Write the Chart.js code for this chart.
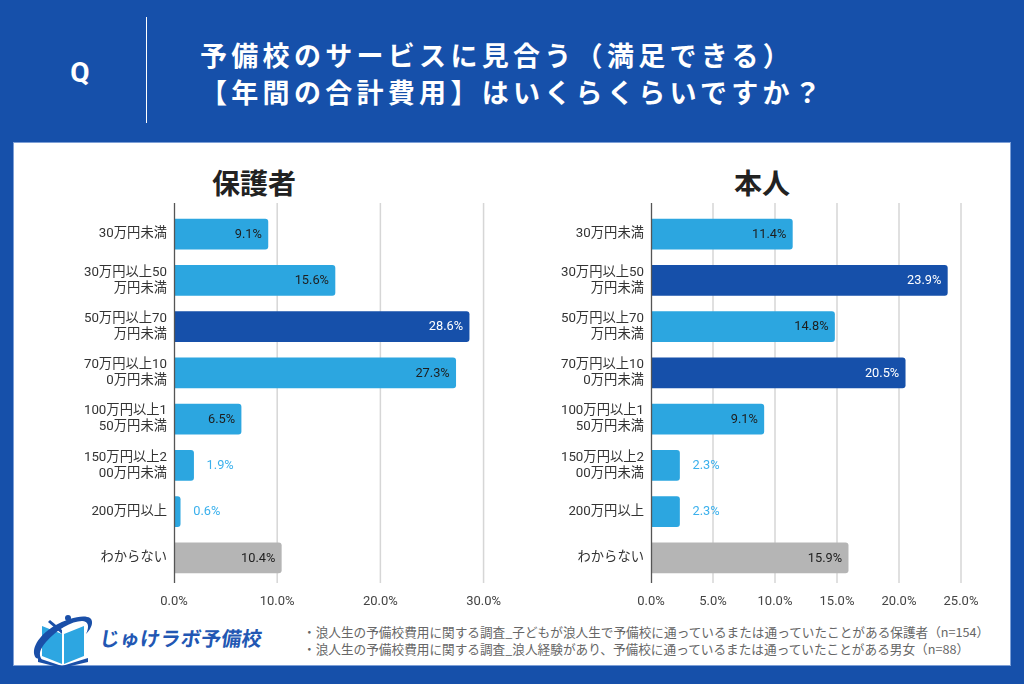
<!DOCTYPE html>
<html><head><meta charset="utf-8">
<script src="https://cdn.jsdelivr.net/npm/chart.js@4.4.0/dist/chart.umd.min.js"></script>
<style>
html,body{margin:0;padding:0;}
body{width:1024px;height:684px;background:#1650aa;position:relative;overflow:hidden;font-family:'Noto Sans CJK JP','Noto Sans',sans-serif;}
#q{position:absolute;left:60px;top:57px;width:40px;text-align:center;color:#fff;font:bold 28px Roboto,'Noto Sans CJK JP';line-height:32px;}
#vl{position:absolute;left:146px;top:17px;width:1px;height:106px;background:#fff;}
.tl{position:absolute;left:200px;color:#fff;font-weight:bold;font-size:27px;letter-spacing:4.3px;white-space:nowrap;line-height:30px;}
#panel{position:absolute;left:13px;top:142px;width:998px;height:524px;background:#fff;border:1px solid #7d9fd6;box-sizing:border-box;}
.ct{position:absolute;top:164px;width:200px;text-align:center;color:#222;font-weight:bold;font-size:28px;line-height:36px;}
#c1{position:absolute;left:14px;top:150px;}
#c2{position:absolute;left:491px;top:150px;}
#logoTxt{position:absolute;left:98px;top:625px;color:#2257b3;font-weight:bold;font-size:20px;line-height:26px;letter-spacing:0.3px;transform:skewX(-8deg);transform-origin:left bottom;white-space:nowrap;}
.fn{position:absolute;left:303px;color:#666;font-size:12.65px;line-height:17px;white-space:nowrap;}
</style></head>
<body>
<div id="q">Q</div>
<div id="vl"></div>
<div class="tl" style="top:40px">予備校のサービスに見合う（満足できる）</div>
<div class="tl" style="top:77px">【年間の合計費用】はいくらくらいですか？</div>
<div id="panel"></div>
<div class="ct" style="left:154px">保護者</div>
<div class="ct" style="left:662px">本人</div>
<canvas id="c1" width="500" height="462" style="width:500px;height:462px"></canvas>
<canvas id="c2" width="520" height="462" style="width:520px;height:462px"></canvas>
<svg style="position:absolute;left:28px;top:612px" width="72" height="56" viewBox="0 0 72 56">
  <path d="M14 14 L14 44 L34 52 L34 22 Z" fill="#2da6e1"/>
  <path d="M36 22 L36 52 L56 44 L56 14 Z" fill="#2da6e1"/>
  <path d="M20 10 L34 22 L34 18 L22 8 Z" fill="#1a4fa8"/>
  <path d="M8 46 C2 38 10 24 26 14 C40 6 56 2 62 6 C66 9 64 16 58 22 C62 14 60 9 54 9 C44 9 28 18 18 30 C12 37 10 42 14 48 Z" fill="#1a4fa8"/>
  <path d="M10 46 L34 54 L60 46 L60 50 L34 56 L10 50 Z" fill="#1a4fa8"/>
  <circle cx="40" cy="6" r="3" fill="#1a4fa8"/>
</svg>
<div id="logoTxt">じゅけラボ予備校</div>
<div class="fn" style="top:623px">・浪人生の予備校費用に関する調査_子どもが浪人生で予備校に通っているまたは通っていたことがある保護者（n=154）</div>
<div class="fn" style="top:640px">・浪人生の予備校費用に関する調査_浪人経験があり、予備校に通っているまたは通っていたことがある男女（n=88）</div>
<script>
const categories = [
  ['30万円未満'],
  ['30万円以上50','万円未満'],
  ['50万円以上70','万円未満'],
  ['70万円以上10','0万円未満'],
  ['100万円以上1','50万円未満'],
  ['150万円以上2','00万円未満'],
  ['200万円以上'],
  ['わからない']
];
const parentValues  = [9.1, 15.6, 28.6, 27.3, 6.5, 1.9, 0.6, 10.4];
const studentValues = [11.4, 23.9, 14.8, 20.5, 9.1, 2.3, 2.3, 15.9];
const parentTicksMax = 30, parentTickStep = 10;
const studentTicksMax = 25, studentTickStep = 5;

const LIGHT = '#2ca6e0', DARK = '#1650aa', GRAY = '#b5b5b5';
const parentColors  = [LIGHT, LIGHT, DARK, LIGHT, LIGHT, LIGHT, LIGHT, GRAY];
const studentColors = [LIGHT, DARK, LIGHT, DARK, LIGHT, LIGHT, LIGHT, GRAY];

const gridPlugin = {
  id: 'gridExt',
  beforeDatasetsDraw(chart) {
    const ctx = chart.ctx, xs = chart.scales.x, a = chart.chartArea;
    ctx.save();
    xs.ticks.forEach((t) => {
      const px = xs.getPixelForValue(t.value);
      if (t.value === 0) return;
      ctx.strokeStyle = '#d6d6d6'; ctx.lineWidth = 1.5;
      ctx.beginPath(); ctx.moveTo(px, a.top - 8); ctx.lineTo(px, a.bottom + 2); ctx.stroke();
    });
    ctx.restore();
  },
  afterDatasetsDraw(chart) {
    const ctx = chart.ctx, xs = chart.scales.x, a = chart.chartArea;
    ctx.save();
    const px = Math.round(xs.getPixelForValue(0)) + 0.5;
    ctx.strokeStyle = '#555'; ctx.lineWidth = 1.3;
    ctx.beginPath(); ctx.moveTo(px, a.top - 8); ctx.lineTo(px, a.bottom + 2); ctx.stroke();
    const meta = chart.getDatasetMeta(0), ds = chart.data.datasets[0];
    ctx.font = '12.8px Roboto, "Noto Sans CJK JP"';
    ctx.textBaseline = 'middle';
    meta.data.forEach((bar, i) => {
      const v = ds.data[i], txt = v.toFixed(1) + '%';
      if (v >= 3) {
        ctx.textAlign = 'right';
        ctx.fillStyle = ds.backgroundColor[i] === DARK ? '#ffffff' : '#1e1e1e';
        ctx.fillText(txt, bar.x - 6, bar.y + 0.5);
      } else {
        ctx.textAlign = 'left';
        ctx.fillStyle = '#3bb0ec';
        ctx.fillText(txt, bar.x + 13, bar.y + 0.5);
      }
    });
    ctx.restore();
  }
};

function makeChart(id, values, colors, max, step, padRight) {
  return new Chart(document.getElementById(id), {
    type: 'bar',
    data: { labels: categories, datasets: [{ data: values, backgroundColor: colors, borderColor: colors, borderWidth: 0, borderRadius: 3, borderSkipped: 'start', barThickness: 30 }] },
    options: {
      indexAxis: 'y', responsive: false, animation: false,
      layout: { padding: { top: 61, right: padRight, left: 0, bottom: 0 } },
      plugins: { legend: { display: false }, tooltip: { enabled: false }, title: { display: false } },
      scales: {
        x: {
          min: 0, max: max,
          ticks: { stepSize: step, padding: 13, color: '#444', font: { family: 'Roboto, "Noto Sans CJK JP"', size: 13 }, callback: v => v.toFixed(1) + '%' },
          grid: { display: false, drawTicks: false, tickLength: 0 },
          border: { display: false },
          afterFit: s => { s.height = 31; }
        },
        y: {
          ticks: { padding: 7, color: '#333', font: { family: 'Roboto, "Noto Sans CJK JP"', size: 13.3 }, lineHeight: 1 },
          grid: { display: false, drawTicks: false, tickLength: 0 },
          border: { display: false },
          afterFit: s => { s.width = 160; }
        }
      }
    },
    plugins: [gridPlugin]
  });
}
makeChart('c1', parentValues, parentColors, parentTicksMax, parentTickStep, 30);
makeChart('c2', studentValues, studentColors, studentTicksMax, studentTickStep, 50);
</script>
</body></html>
